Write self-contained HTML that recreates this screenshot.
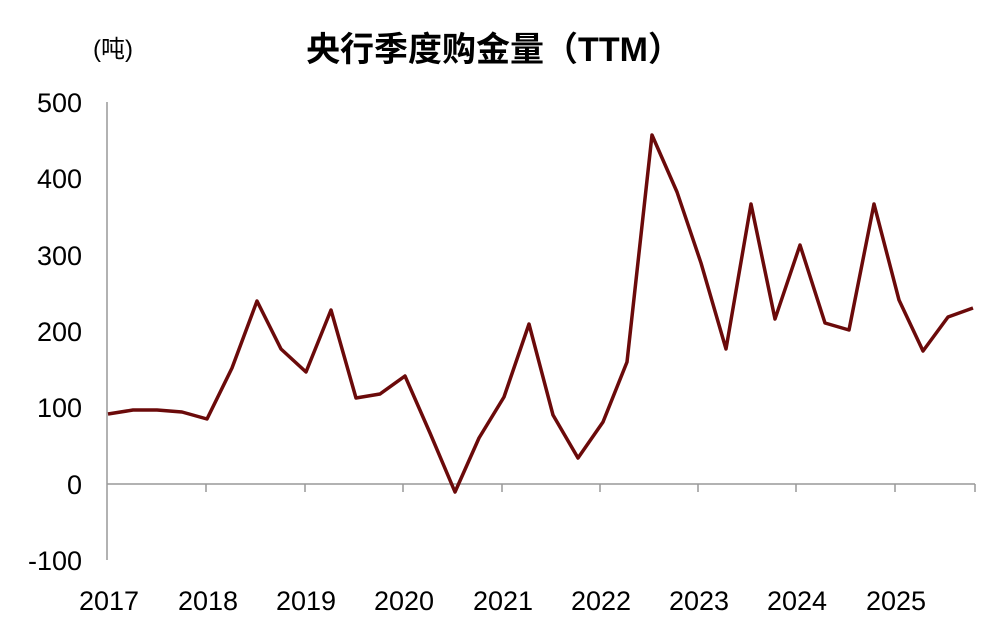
<!DOCTYPE html>
<html><head><meta charset="utf-8"><style>
html,body{margin:0;padding:0;background:#fff;}
svg{display:block;}
text{font-family:"Liberation Sans","Noto Sans CJK SC",sans-serif;fill:#000;}
</style></head><body>
<svg width="1003" height="636" viewBox="0 0 1003 636">
<text x="93" y="57" font-size="24">(吨)</text>
<text x="494" y="61" font-size="34" font-weight="bold" text-anchor="middle">央行季度购金量（TTM）</text>
<g font-size="27" text-anchor="end">
<text x="82" y="112">500</text>
<text x="82" y="188">400</text>
<text x="82" y="265">300</text>
<text x="82" y="341">200</text>
<text x="82" y="417">100</text>
<text x="82" y="494">0</text>
<text x="82" y="570">-100</text>
</g>
<line x1="107" y1="102" x2="107" y2="560" stroke="#999" stroke-width="1.5"/>
<line x1="107" y1="484" x2="975" y2="484" stroke="#999" stroke-width="1.5"/>
<g stroke="#999" stroke-width="1.5">
<line x1="206" y1="484" x2="206" y2="492"/><line x1="305" y1="484" x2="305" y2="492"/>
<line x1="403" y1="484" x2="403" y2="492"/><line x1="502" y1="484" x2="502" y2="492"/>
<line x1="600" y1="484" x2="600" y2="492"/><line x1="698" y1="484" x2="698" y2="492"/>
<line x1="796" y1="484" x2="796" y2="492"/><line x1="895" y1="484" x2="895" y2="492"/>
<line x1="975" y1="484" x2="975" y2="492"/>
</g>
<g font-size="27" text-anchor="middle">
<text x="109" y="610">2017</text><text x="208" y="610">2018</text><text x="306" y="610">2019</text>
<text x="404" y="610">2020</text><text x="503" y="610">2021</text><text x="601" y="610">2022</text>
<text x="699" y="610">2023</text><text x="797" y="610">2024</text><text x="896" y="610">2025</text>
</g>
<polyline fill="none" stroke="#6b0a0a" stroke-width="3.5" stroke-linejoin="round" points="108,414 133,410 157,410 182,412 207,419 232,368 257,301 281,349 306,372 331,310 356,398 380,394 405,376 430,433 455,492 479,438 504,397 529,324 553,415 578,458 603,422 627,362 652,135 677,192 701,263 726,349 751,204 775,319 800,245 825,323 849,330 874,204 899,300 923,351 948,317 973,308"/>
</svg>
</body></html>
